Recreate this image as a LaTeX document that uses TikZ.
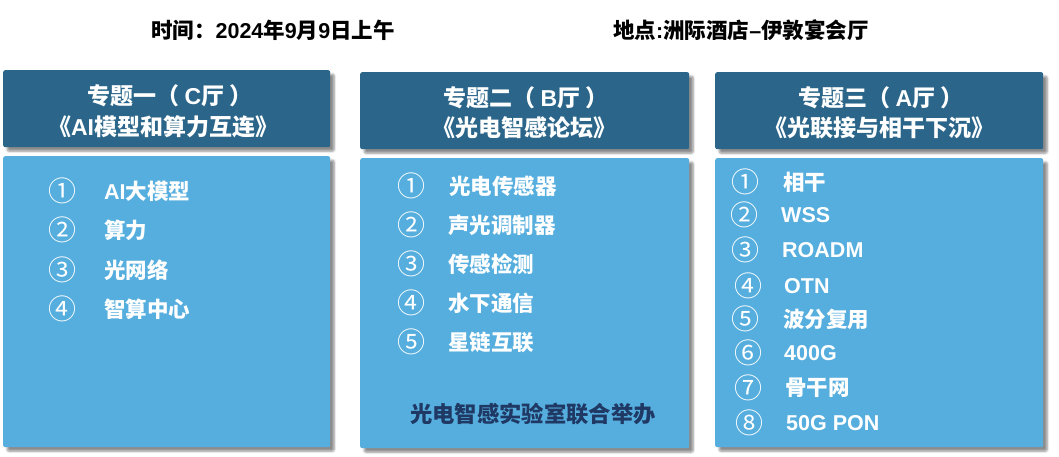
\documentclass[tikz,border=0pt]{standalone}
\usepackage{fontspec}
\setmainfont{Noto Sans CJK SC}
\newfontfamily\lat{Liberation Sans}
\usetikzlibrary{shadows.blur}
\definecolor{hdr}{RGB}{43,102,138}
\definecolor{bdy}{RGB}{85,174,222}
\definecolor{ftr}{RGB}{31,56,100}
\newcommand{\hsp}{\hspace{5pt}}
\tikzset{
  shad/.style={blur shadow={shadow xshift=4pt,shadow yshift=-4pt,shadow blur steps=6,shadow opacity=45}},
  panel/.style={shad,rounded corners=2pt,inner sep=0pt,anchor=north west},
  hbox/.style={panel,fill=hdr},
  bbox/.style={panel,fill=bdy},
  htext/.style={text=white,font=\fontsize{23}{26}\selectfont\bfseries,inner sep=0pt},
  num/.style={text=white,font=\fontsize{28}{30}\selectfont,inner sep=0pt},
  item/.style={text=white,font=\fontsize{21.5}{24}\selectfont\bfseries,anchor=west,inner sep=0pt},
  toptext/.style={font=\fontsize{21.5}{24}\selectfont\bfseries,inner sep=0pt},
  foot/.style={text=ftr,font=\fontsize{22.3}{25}\selectfont\bfseries,inner sep=0pt}
}
\begin{document}
\begin{tikzpicture}[x=1pt,y=-1pt]
\useasboundingbox (0,0) rectangle (1059,457);
% top line
\node[toptext] (time) at (273,30) {时间：{\lat 2024}年{\lat 9}月{\lat 9}日上午};
\node[toptext] (place) at (741,30) {地点{\lat :}洲际酒店{\lat –}伊敦宴会厅};
% column boxes
\node[hbox,minimum width=327pt,minimum height=77pt] (h1) at (3,70) {};
\node[bbox,minimum width=327pt,minimum height=291pt] (b1) at (3,156) {};
\node[hbox,minimum width=329pt,minimum height=77pt] (h2) at (360,72) {};
\node[bbox,minimum width=329pt,minimum height=290pt] (b2) at (360,158) {};
\node[hbox,minimum width=328pt,minimum height=77pt] (h3) at (715,72) {};
\node[bbox,minimum width=328pt,minimum height=289pt] (b3) at (715,158) {};
% headers
\node[htext] (h1a) at (170,96) {专题一（\hsp{\lat C}厅\hsp）};
\node[htext] (h1b) at (163,127) {《{\lat AI}模型和算力互连》};
\node[htext] (h2a) at (526,98) {专题二（\hsp{\lat B}厅\hsp）};
\node[htext] (h2b) at (524,128) {《光电智感论坛》};
\node[htext] (h3a) at (881,98) {专题三（\hsp{\lat A}厅\hsp）};
\node[htext] (h3b) at (879,128) {《光联接与相干下沉》};
% column 1
\node[num] (c1n1) at (62,191) {①};
\node[item] (c1t1) at (104,191) {{\lat AI}大模型};
\node[num] (c1n2) at (62,230) {②};
\node[item] (c1t2) at (104,230) {算力};
\node[num] (c1n3) at (62,270) {③};
\node[item] (c1t3) at (104,270) {光网络};
\node[num] (c1n4) at (62,309) {④};
\node[item] (c1t4) at (104,309) {智算中心};
% column 2
\node[num] (c2n1) at (411,186) {①};
\node[item] (c2t1) at (449,186) {光电传感器};
\node[num] (c2n2) at (411,225) {②};
\node[item] (c2t2) at (448,225) {声光调制器};
\node[num] (c2n3) at (411,264) {③};
\node[item] (c2t3) at (448,264) {传感检测};
\node[num] (c2n4) at (411,303) {④};
\node[item] (c2t4) at (448,303) {水下通信};
\node[num] (c2n5) at (411,342) {⑤};
\node[item] (c2t5) at (448,342) {星链互联};
\node[foot] (f2) at (533,414) {光电智感实验室联合举办};
% column 3
\node[num] (c3n1) at (745,182) {①};
\node[item] (c3t1) at (783,182) {相干};
\node[num] (c3n2) at (744,215) {②};
\node[item] (c3t2) at (781,215) {\lat WSS};
\node[num] (c3n3) at (745,250) {③};
\node[item] (c3t3) at (782,250) {\lat ROADM};
\node[num] (c3n4) at (748,286) {④};
\node[item] (c3t4) at (784,286) {\lat OTN};
\node[num] (c3n5) at (745,319) {⑤};
\node[item] (c3t5) at (783,319) {波分复用};
\node[num] (c3n6) at (748,353) {⑥};
\node[item] (c3t6) at (784,353) {\lat 400G};
\node[num] (c3n7) at (748,388) {⑦};
\node[item] (c3t7) at (785,388) {骨干网};
\node[num] (c3n8) at (749,423) {⑧};
\node[item] (c3t8) at (786,423) {\lat 50G PON};
\end{tikzpicture}
\end{document}
